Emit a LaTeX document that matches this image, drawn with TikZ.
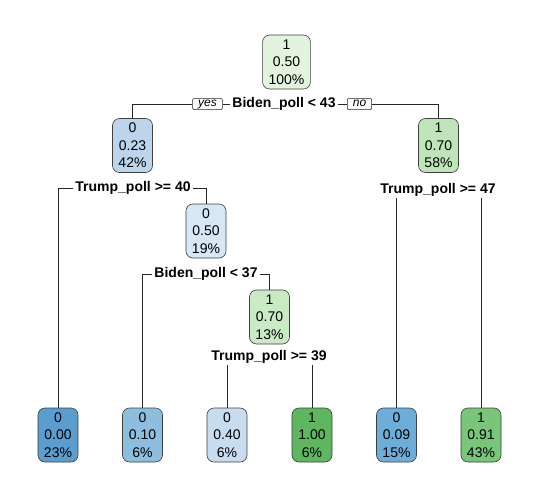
\documentclass[tikz,border=0pt]{standalone}
\usepackage{fontspec}
\setmainfont{Liberation Sans}
\definecolor{cRoot}{HTML}{E3F4DE}
\definecolor{cNa}{HTML}{BCD5ED}
\definecolor{cNb}{HTML}{BDE5B7}
\definecolor{cNc}{HTML}{D8E7F5}
\definecolor{cNd}{HTML}{C9EAC3}
\definecolor{cLa}{HTML}{5A9ECF}
\definecolor{cLb}{HTML}{8DBEDD}
\definecolor{cLc}{HTML}{C8DCF0}
\definecolor{cLd}{HTML}{5EB65F}
\definecolor{cLe}{HTML}{6DAED8}
\definecolor{cLf}{HTML}{77C679}
\begin{document}
\begin{tikzpicture}[x=1pt,y=-1pt,
  tnode/.style={draw=black!75, line width=0.6pt, rounded corners=7pt, align=center,
    font=\fontsize{14}{17.5}\selectfont, inner xsep=6pt, inner ysep=1pt,
    minimum height=54pt, minimum width=40pt},
  splitlab/.style={font=\fontsize{14}{17}\selectfont\bfseries, inner xsep=2pt, inner ysep=1pt},
  yn/.style={draw=black!85, line width=0.5pt, fill=white, rounded corners=1pt,
    font=\fontsize{12}{14}\selectfont\itshape, inner xsep=5.5pt, inner ysep=1pt,
    text height=6.5pt, text depth=2.5pt},
  edge/.style={draw=black!85, line width=0.6pt}]
\useasboundingbox (0,0) rectangle (539,496);
\fill[white] (0,0) rectangle (539,496);

% inner nodes
\node[tnode, fill=cRoot] (n1) at (286.5,62) {1\\0.50\\100\%};
\node[tnode, fill=cNa] (n2) at (132.5,145.5) {0\\0.23\\42\%};
\node[tnode, fill=cNb] (n3) at (438.5,145.5) {1\\0.70\\58\%};
\node[tnode, fill=cNc] (n4) at (206,231) {0\\0.50\\19\%};
\node[tnode, fill=cNd] (n5) at (269.5,317) {1\\0.70\\13\%};

% leaves
\node[tnode, fill=cLa] (l1) at (58,435) {0\\0.00\\23\%};
\node[tnode, fill=cLb] (l2) at (142.5,435) {0\\0.10\\6\%};
\node[tnode, fill=cLc] (l3) at (227,435) {0\\0.40\\6\%};
\node[tnode, fill=cLd] (l4) at (312,435) {1\\1.00\\6\%};
\node[tnode, fill=cLe] (l5) at (396.5,435) {0\\0.09\\15\%};
\node[tnode, fill=cLf] (l6) at (481,435) {1\\0.91\\43\%};

% split labels
\node[splitlab] (s1) at (284,104) {Biden\_poll < 43};
\node[yn] (yes) at (207.5,104) {yes};
\node[yn] (no) at (359.5,104) {no};
\node[splitlab] (s2) at (133,188) {Trump\_poll >= 40};
\node[splitlab] (s3) at (206,274) {Biden\_poll < 37};
\node[splitlab] (s4) at (269,357) {Trump\_poll >= 39};
\node[splitlab] (s5) at (438,190) {Trump\_poll >= 47};

% connectors
\draw[edge] (yes.west) -| (n2.north);
\draw[edge] (yes.east) -- (s1.west);
\draw[edge] (s1.east) -- (no.west);
\draw[edge] (no.east) -| (n3.north);

\draw[edge] (s2.west) -| (l1.north);
\draw[edge] (s2.east) -| (n4.north);

\draw[edge] (s3.west) -| (l2.north);
\draw[edge] (s3.east) -| (n5.north);

\draw[edge] (s4.south -| l3.north) -- (l3.north);
\draw[edge] (s4.south -| l4.north) -- (l4.north);

\draw[edge] (s5.south -| l5.north) -- (l5.north);
\draw[edge] (s5.south -| l6.north) -- (l6.north);
\end{tikzpicture}
\end{document}
